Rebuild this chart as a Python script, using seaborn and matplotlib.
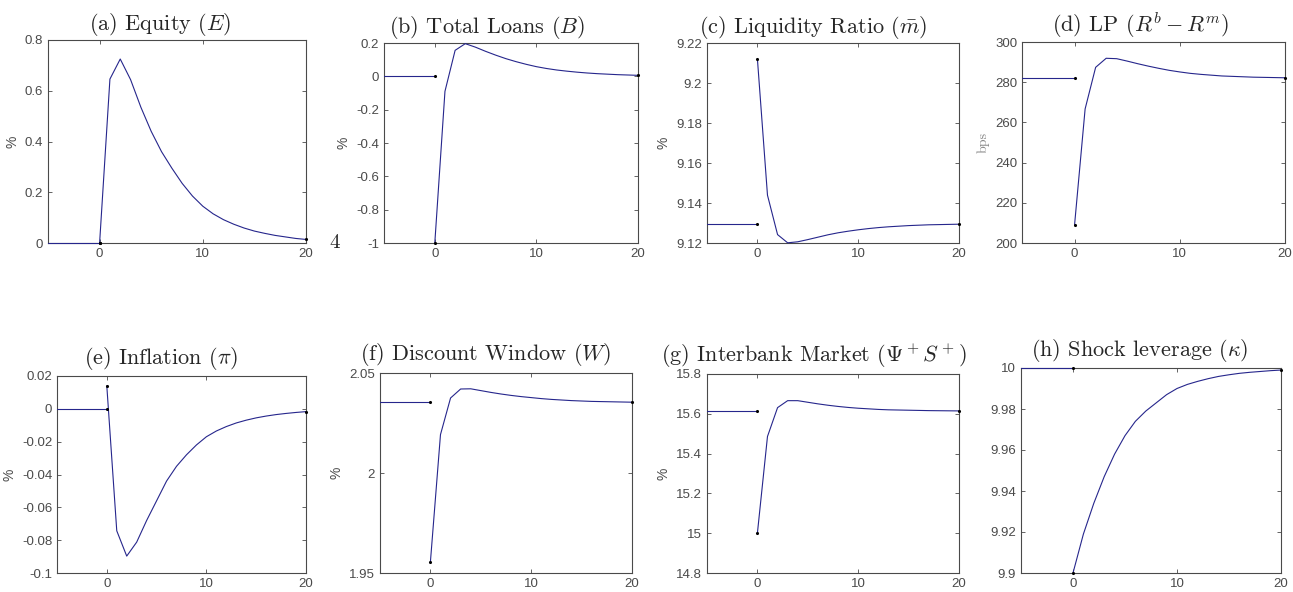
import numpy as np
import pandas as pd
import seaborn as sns
import matplotlib.pyplot as plt
from matplotlib.ticker import FormatStrFormatter

# impulse responses, t = 0..20
horizon = list(range(21))
pre_x = [-5, 0]

equity = [0, 0.646, 0.725, 0.644, 0.535, 0.44, 0.36, 0.295, 0.235, 0.185, 0.145,
          0.115, 0.092, 0.074, 0.059, 0.047, 0.038, 0.030, 0.024, 0.018, 0.014]
loans = [-1, -0.09, 0.156, 0.196, 0.175, 0.150, 0.127, 0.106, 0.088, 0.072, 0.058,
         0.047, 0.038, 0.031, 0.025, 0.020, 0.016, 0.013, 0.010, 0.008, 0.006]
liq = [9.2121, 9.1439, 9.1242, 9.1201, 9.1206, 9.1217, 9.1229, 9.1241, 9.1251, 9.1259, 9.1266,
       9.1272, 9.1277, 9.1281, 9.1284, 9.1287, 9.1289, 9.1291, 9.1292, 9.1293, 9.1294]
lp = [209.2, 266.7, 287.4, 291.9, 291.7, 290.5, 289.2, 288.0, 286.9, 285.9, 285.1,
      284.4, 283.9, 283.5, 283.1, 282.9, 282.7, 282.5, 282.4, 282.3, 282.2]
infl = [0.014, -0.0743, -0.0897, -0.0812, -0.068, -0.056, -0.044, -0.035, -0.028, -0.022, -0.017,
        -0.0135, -0.0108, -0.0086, -0.0069, -0.0055, -0.0044, -0.0035, -0.0028, -0.0022, -0.0017]
dw = [1.9555, 2.0192, 2.0375, 2.0420, 2.0421, 2.0412, 2.0403, 2.0395, 2.0388, 2.0382, 2.0377,
      2.0372, 2.0368, 2.0365, 2.0362, 2.0360, 2.0358, 2.0357, 2.0356, 2.0355, 2.0354]
interbank = [15.0, 15.486, 15.631, 15.666, 15.666, 15.658, 15.650, 15.643, 15.637, 15.632, 15.628,
             15.625, 15.622, 15.620, 15.619, 15.618, 15.617, 15.616, 15.6155, 15.615, 15.6145]
kappa = [9.9, 9.919, 9.934, 9.947, 9.958, 9.967, 9.974, 9.979, 9.983, 9.987, 9.990,
         9.992, 9.9935, 9.9948, 9.9959, 9.9967, 9.9974, 9.9979, 9.9983, 9.9987, 9.999]

steady = [0, 0, 9.1297, 282.0, 0, 2.0353, 15.614, 10.0]
series = [equity, loans, liq, lp, infl, dw, interbank, kappa]

titles = [r"(a) Equity ($E$)", r"(b) Total Loans ($B$)", r"(c) Liquidity Ratio ($\bar{m}$)",
          r"(d) LP ($R^b - R^m$)", r"(e) Inflation ($\pi$)", r"(f) Discount Window ($W$)",
          r"(g) Interbank Market ($\Psi^+S^+$)", r"(h) Shock leverage ($\kappa$)"]
ylabels = ["%", "%", "%", "bps", "%", "%", "%", ""]
yticks = [[0, 0.2, 0.4, 0.6, 0.8],
          [-1, -0.8, -0.6, -0.4, -0.2, 0, 0.2],
          [9.12, 9.14, 9.16, 9.18, 9.2, 9.22],
          [200, 220, 240, 260, 280, 300],
          [-0.1, -0.08, -0.06, -0.04, -0.02, 0, 0.02],
          [1.95, 2, 2.05],
          [14.8, 15, 15.2, 15.4, 15.6, 15.8],
          [9.9, 9.92, 9.94, 9.96, 9.98, 10]]

sns.set_style("ticks")
plt.rcParams['mathtext.fontset'] = 'cm'
plt.rcParams['font.family'] = ['Liberation Sans', 'DejaVu Sans']
plt.rcParams['axes.unicode_minus'] = False

W, H = 1293, 592
fig = plt.figure(figsize=(W / 100, H / 100), dpi=100)

# panel boxes in pixels: left, top, right, bottom
boxes = [(48, 40, 306, 243), (384, 43, 638, 243), (707, 43, 959, 243), (1022, 42, 1285, 243),
         (57, 376, 306, 573), (380, 373, 632, 573), (707, 374, 959, 573), (1021, 368, 1281, 573)]
# titles sit a little left of the axes centre in the original
title_shift = [17, 24, 20, 13, 20, 20, 19, 11]

grey = '#4a4a4a'
navy = '#26268c'

for i, (l, t, r, b) in enumerate(boxes):
    ax = fig.add_axes([l / W, 1 - b / H, (r - l) / W, (b - t) / H])
    ss = steady[i]
    irf = series[i]
    sns.lineplot(x=pre_x, y=[ss, ss], ax=ax, color=navy, linewidth=0.8, zorder=4, clip_on=False)
    sns.lineplot(x=horizon, y=irf, ax=ax, color=navy, linewidth=0.8, zorder=4, clip_on=False)
    dots = pd.DataFrame({'x': [0, 0, 20], 'y': [ss, irf[0], irf[-1]]})
    sns.scatterplot(data=dots, x='x', y='y', ax=ax, color='k', s=5, linewidth=0, zorder=5,
                    clip_on=False)
    ax.set_xlim(-5, 20)
    ax.set_ylim(yticks[i][0], yticks[i][-1])
    ax.set_xticks([0, 10, 20])
    ax.set_yticks(yticks[i])
    ax.yaxis.set_major_formatter(FormatStrFormatter('%g'))
    ax.tick_params(direction='in', top=True, right=True, length=3, width=0.6,
                   labelsize=9.5, colors=grey, labelcolor=grey)
    for sp in ax.spines.values():
        sp.set_color(grey)
        sp.set_linewidth(0.8)
    ax.set_xlabel('')
    ax.set_title(titles[i], family='cmr10', fontsize=16, pad=7 if i < 4 else 9,
                 x=0.5 - title_shift[i] / (r - l))
    if ylabels[i] == 'bps':
        ax.set_ylabel('bps', family='cmr10', fontsize=10, color='#888888')
    else:
        ax.set_ylabel(ylabels[i], fontsize=10, color=grey)

fig.text(335 / W, 1 - 243 / H, '4', family='cmr10', fontsize=15, ha='center', va='center')

plt.savefig('out.png', dpi=100)
